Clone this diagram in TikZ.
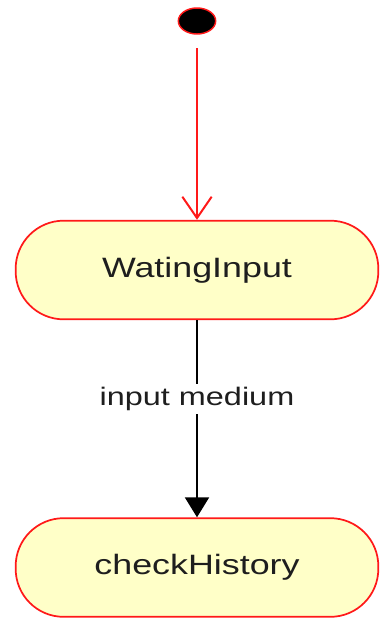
\documentclass[tikz,border=0pt]{standalone}
\usepackage{fontspec}
\setmainfont{Liberation Sans}
\newfontfamily\statefont[FakeStretch=1.28]{Liberation Sans}
\usetikzlibrary{arrows.meta,shapes.geometric,positioning}
\definecolor{statefill}{RGB}{255,255,200}
\definecolor{stateline}{RGB}{255,25,25}
\definecolor{textgray}{RGB}{30,30,30}

\begin{document}
\begin{tikzpicture}[x=0.75pt,y=0.75pt,yscale=-1,xscale=1,
  state/.style={draw=stateline,fill=statefill,line width=1.3pt,rounded corners=36pt,
    minimum width=272pt,minimum height=74pt,text=textgray,
    font=\statefont\fontsize{21}{25}\selectfont},
  initial/.style={ellipse,draw=stateline,fill=black,line width=1.1pt,
    minimum width=28pt,minimum height=19.5pt,inner sep=0pt},
  translabel/.style={fill=white,text=textgray,inner sep=2.5pt,
    font=\statefont\fontsize{19}{23}\selectfont}]
%set diagram left start at 0, and has height of 619
\path (0,0) rectangle (378,619);

%Initial state
\node (start) [initial] at (197,21) {};
%States
\node (waiting) [state] at (197,270) {WatingInput};
\node (check) [state] at (197,567.5) {checkHistory};

%Transitions
\draw [stateline,line width=1.5pt,shorten <=10pt,
  -{Straight Barb[length=16pt,width=22pt]}] (start) -- (waiting);
\draw [black,line width=1.6pt,-{Triangle[length=15pt,width=18pt]}]
  (waiting) -- node [translabel,pos=0.4] {input medium} (check);

\end{tikzpicture}
\end{document}
